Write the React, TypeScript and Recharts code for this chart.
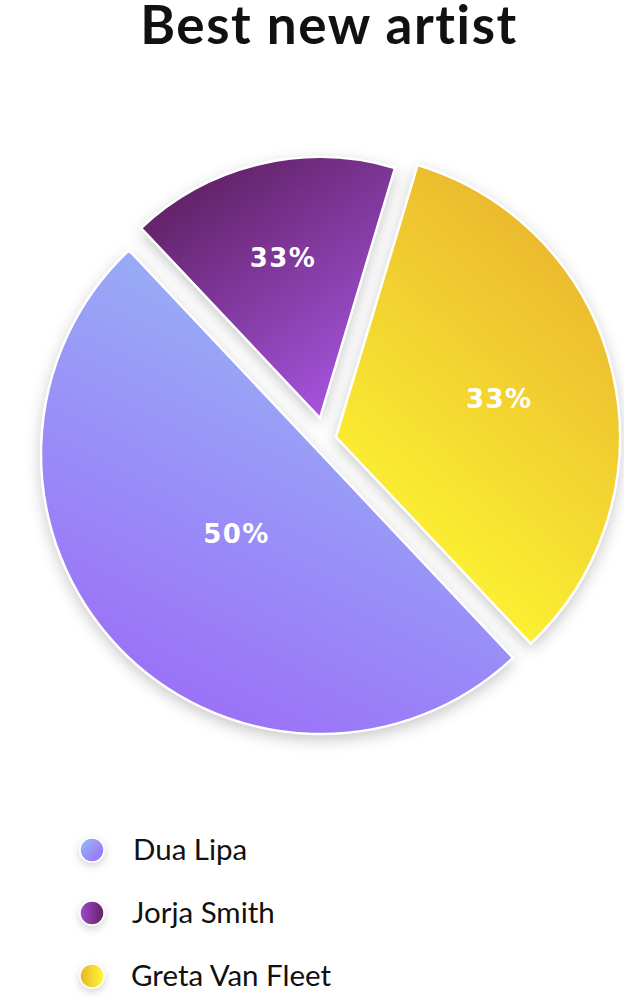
import { PieChart, Pie, Sector, Legend } from 'recharts'

const artists = ['Dua Lipa', 'Jorja Smith', 'Greta Van Fleet']
const votes = [3, 1, 2]
const shareLabels = ['50%', '33%', '33%']
const title = 'Best new artist'

const data = artists.map((name, i) => ({ name, value: votes[i], label: shareLabels[i] }))

// per-slice look: exploded offset, radius, label distance, gradient
const SLICE_STYLE = [
  { shift: [0, 0], radius: 280, labelR: 117, from: '#97bcf6', to: '#9b6af8', dir: [0.7, 0, 0.2, 1] },
  { shift: [-1, -36], radius: 261, labelR: 164, from: '#5c1d5c', to: '#a755e0', dir: [0.1, 0.05, 0.75, 1] },
  { shift: [15, -17], radius: 284, labelR: 167, from: '#e8b02e', to: '#fffd33', dir: [0.75, 0, 0.25, 1] },
]
const LEGEND_STYLE = [
  { from: '#97bcf6', to: '#9b6af8', dir: [0, 0, 1, 1] },
  { from: '#a04ad2', to: '#62205f', dir: [0, 0.5, 1, 0.5] },
  { from: '#e9b22d', to: '#fffa35', dir: [0, 0.5, 1, 0.5] },
]

const RAD = Math.PI / 180

const sliceProps = (p: any) => {
  const s = SLICE_STYLE[p.index]
  return {
    cx: p.cx + s.shift[0],
    cy: p.cy + s.shift[1],
    innerRadius: 0,
    outerRadius: s.radius,
    startAngle: p.startAngle,
    endAngle: p.endAngle,
  }
}

// pass 1: soft shadow under every slice
const renderShadow = (p: any) => (
  <Sector {...sliceProps(p)} fill="#fff" stroke="none" filter="url(#pieShadow)" />
)

// pass 2: the coloured slices, drawn over all shadows
const renderSlice = (p: any) => (
  <Sector {...sliceProps(p)} fill={`url(#slice${p.index})`} stroke="#fff" strokeWidth={2.5} />
)

// pass 3: percentage texts
const renderShare = (p: any) => {
  const s = SLICE_STYLE[p.index]
  const x = p.cx + s.shift[0] + s.labelR * Math.cos(-p.midAngle * RAD)
  const y = p.cy + s.shift[1] + s.labelR * Math.sin(-p.midAngle * RAD)
  return (
    <text
      x={x + 0.7}
      y={y}
      fill="#fff"
      textAnchor="middle"
      dominantBaseline="central"
      fontFamily="'DejaVu Sans', sans-serif"
      fontWeight={700}
      fontSize={26}
      letterSpacing={1.4}
    >
      {p.payload.label}
    </text>
  )
}

const renderLegend = (props: any) => {
  const items = (props.payload || []).filter((e: any) => e.type !== 'none')
  return (
    <svg width={624} height={188} style={{ overflow: 'visible' }}>
      <defs>
        {LEGEND_STYLE.map((g, i) => (
          <linearGradient key={i} id={`dot${i}`} x1={g.dir[0]} y1={g.dir[1]} x2={g.dir[2]} y2={g.dir[3]}>
            <stop offset="0%" stopColor={g.from} />
            <stop offset="100%" stopColor={g.to} />
          </linearGradient>
        ))}
        <filter id="dotShadow" x="-100%" y="-100%" width="300%" height="300%">
          <feDropShadow dx="0" dy="3" stdDeviation="4" floodColor="#000" floodOpacity="0.18" />
        </filter>
      </defs>
      {items.map((entry: any) => {
        const i = artists.indexOf(entry.value)
        return (
          <g key={entry.value}>
            <circle
              cx={92}
              cy={30 + i * 63}
              r={12}
              fill={`url(#dot${i})`}
              stroke="#fff"
              strokeWidth={1.5}
              filter="url(#dotShadow)"
            />
            <text
              x={133 - i}
              y={40 + i * 63}
              fontFamily="Lato, sans-serif"
              fontSize={29.5}
              fill="#111"
            >
              {entry.value}
            </text>
          </g>
        )
      })}
    </svg>
  )
}

const pieBase = {
  data,
  dataKey: 'value',
  nameKey: 'name',
  cx: 321,
  cy: 454,
  outerRadius: 280,
  startAngle: -46.7,
  endAngle: -406.7,
  fill: 'none',
  stroke: 'none',
  labelLine: false,
  isAnimationActive: false,
}

export default function App() {
  return (
    <div style={{ position: 'relative', width: 624, height: 1008, background: '#fff' }}>
      <style>{'body{margin:0}'}</style>
      <svg width={624} height={60} style={{ position: 'absolute', top: 0, left: 0, zIndex: 2 }}>
        <text
          x={329}
          y={44}
          textAnchor="middle"
          fontFamily="Lato, sans-serif"
          fontWeight={700}
          fontSize={53}
          letterSpacing={1.6}
          fill="#111"
        >
          {title}
        </text>
      </svg>
      <PieChart width={624} height={1008} margin={{ top: 0, right: 0, bottom: 0, left: 0 }}>
        <defs>
          {SLICE_STYLE.map((g, i) => (
            <linearGradient key={i} id={`slice${i}`} x1={g.dir[0]} y1={g.dir[1]} x2={g.dir[2]} y2={g.dir[3]}>
              <stop offset="0%" stopColor={g.from} />
              <stop offset="100%" stopColor={g.to} />
            </linearGradient>
          ))}
          <filter id="pieShadow" x="-30%" y="-30%" width="160%" height="160%">
            <feDropShadow dx="0" dy="5" stdDeviation="8" floodColor="#000" floodOpacity="0.24" />
          </filter>
        </defs>
        <Pie {...pieBase} label={renderShadow} />
        <Pie {...pieBase} legendType="none" label={renderSlice} />
        <Pie {...pieBase} legendType="none" label={renderShare} />
        <Legend content={renderLegend} wrapperStyle={{ top: 820, left: 0, width: 624 }} />
      </PieChart>
    </div>
  )
}
